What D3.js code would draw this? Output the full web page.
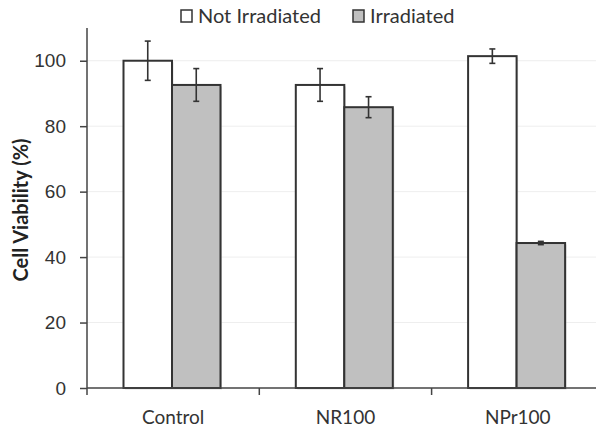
<!DOCTYPE html>
<html>
<head>
<meta charset="utf-8">
<script src="https://cdn.jsdelivr.net/npm/d3@7"></script>
<style>
  body { margin: 0; background: #fff; }
  svg { font-family: Lato, "Open Sans", "DejaVu Sans", sans-serif; }
</style>
</head>
<body>
<svg id="chart" width="596" height="430"></svg>
<script>
// data
var categories = ["Control", "NR100", "NPr100"];
var series = ["Not Irradiated", "Irradiated"];
var notIrradiated = [100, 92.6, 101.4];
var notIrradiatedErr = [6, 5, 2.2];
var irradiated = [92.6, 85.8, 44.3];
var irradiatedErr = [5, 3.2, 0.5];
var yTicks = [0, 20, 40, 60, 80, 100];

var fills = ["#ffffff", "#c0c0c0"];

var svg = d3.select("#chart");
var plotLeft = 87, plotTop = 28, plotBottom = 388;
var band = 172.3;

var x0 = d3.scaleBand()
    .domain(categories)
    .range([plotLeft, plotLeft + band * categories.length])
    .paddingInner(0).paddingOuter(0);
var x1 = d3.scaleBand()
    .domain(series)
    .range([36.5, 36.5 + 97]);
var y = d3.scaleLinear().domain([0, 110]).range([plotBottom, plotTop]);

// gridlines
svg.append("g")
    .selectAll("line")
    .data(yTicks.slice(1))
    .enter().append("line")
    .attr("x1", plotLeft).attr("x2", 596)
    .attr("y1", function(d) { return y(d); })
    .attr("y2", function(d) { return y(d); })
    .attr("stroke", "#eeeeee")
    .attr("stroke-width", 1);

var rows = categories.map(function(c, i) {
    return [
        { cat: c, s: series[0], v: notIrradiated[i], e: notIrradiatedErr[i], k: 0 },
        { cat: c, s: series[1], v: irradiated[i], e: irradiatedErr[i], k: 1 }
    ];
});

var groups = svg.append("g").selectAll("g")
    .data(rows)
    .enter().append("g")
    .attr("transform", function(d) { return "translate(" + x0(d[0].cat) + ",0)"; });

// soft shadow behind bars
groups.selectAll("rect.shadow")
    .data(function(d) { return d; })
    .enter().append("rect")
    .attr("class", "shadow")
    .attr("x", function(d) { return x1(d.s) + 1.5; })
    .attr("y", function(d) { return y(d.v) + 1.5; })
    .attr("width", x1.bandwidth())
    .attr("height", function(d) { return plotBottom - y(d.v); })
    .attr("fill", "#bbb")
    .attr("opacity", 0.5);

groups.selectAll("rect.bar")
    .data(function(d) { return d; })
    .enter().append("rect")
    .attr("class", "bar")
    .attr("x", function(d) { return x1(d.s); })
    .attr("y", function(d) { return y(d.v); })
    .attr("width", x1.bandwidth())
    .attr("height", function(d) { return plotBottom - y(d.v); })
    .attr("fill", function(d) { return fills[d.k]; })
    .attr("stroke", "#333")
    .attr("stroke-width", 2);

// error bars
var err = groups.selectAll("g.err")
    .data(function(d) { return d; })
    .enter().append("g")
    .attr("class", "err")
    .attr("stroke", "#333")
    .attr("stroke-width", 1.6);
err.append("line")
    .attr("x1", function(d) { return x1(d.s) + x1.bandwidth() / 2; })
    .attr("x2", function(d) { return x1(d.s) + x1.bandwidth() / 2; })
    .attr("y1", function(d) { return y(d.v + d.e); })
    .attr("y2", function(d) { return y(d.v - d.e); });
err.selectAll("line.cap")
    .data(function(d) { return [d.v + d.e, d.v - d.e].map(function(v) { return { s: d.s, v: v }; }); })
    .enter().append("line")
    .attr("class", "cap")
    .attr("x1", function(d) { return x1(d.s) + x1.bandwidth() / 2 - 3; })
    .attr("x2", function(d) { return x1(d.s) + x1.bandwidth() / 2 + 3; })
    .attr("y1", function(d) { return y(d.v); })
    .attr("y2", function(d) { return y(d.v); });

// y axis
var yAxis = svg.append("g")
    .attr("transform", "translate(" + plotLeft + ",0)")
    .call(d3.axisLeft(y).tickValues(yTicks).tickSize(7).tickPadding(14));
yAxis.select(".domain").attr("stroke", "#444").attr("stroke-width", 1.5)
    .attr("d", "M0," + plotTop + "V" + plotBottom);
yAxis.selectAll(".tick line").attr("stroke", "#444").attr("stroke-width", 1.5);
yAxis.selectAll(".tick text").attr("fill", "#333").style("font-size", "19px");

// x axis
var xAxis = svg.append("g")
    .attr("transform", "translate(0," + plotBottom + ")");
xAxis.append("line")
    .attr("x1", plotLeft).attr("x2", 596)
    .attr("stroke", "#444").attr("stroke-width", 1.5);
xAxis.selectAll("line.tk")
    .data(categories)
    .enter().append("line")
    .attr("class", "tk")
    .attr("x1", function(d) { return x0(d); })
    .attr("x2", function(d) { return x0(d); })
    .attr("y1", 0).attr("y2", 7)
    .attr("stroke", "#444").attr("stroke-width", 1.5);
xAxis.selectAll("text")
    .data(categories)
    .enter().append("text")
    .attr("x", function(d) { return x0(d) + x0.bandwidth() / 2; })
    .attr("y", 36)
    .attr("text-anchor", "middle")
    .attr("fill", "#333")
    .style("font-size", "19px")
    .text(function(d) { return d; });

// y title
svg.append("text")
    .attr("transform", "translate(28,210) rotate(-90)")
    .attr("text-anchor", "middle")
    .attr("fill", "#222")
    .style("font-size", "20px")
    .style("font-weight", "bold")
    .text("Cell Viability (%)");

// legend
var legendX = [181, 353];
var legend = svg.append("g").selectAll("g")
    .data(series)
    .enter().append("g")
    .attr("transform", function(d, i) { return "translate(" + legendX[i] + ",10)"; });
legend.append("rect")
    .attr("width", 11).attr("height", 12)
    .attr("fill", function(d, i) { return fills[i]; })
    .attr("stroke", "#333").attr("stroke-width", 1.5);
legend.append("text")
    .attr("x", 17).attr("y", 13)
    .attr("fill", "#333")
    .style("font-size", "20px")
    .text(function(d) { return d; });
</script>
</body>
</html>
